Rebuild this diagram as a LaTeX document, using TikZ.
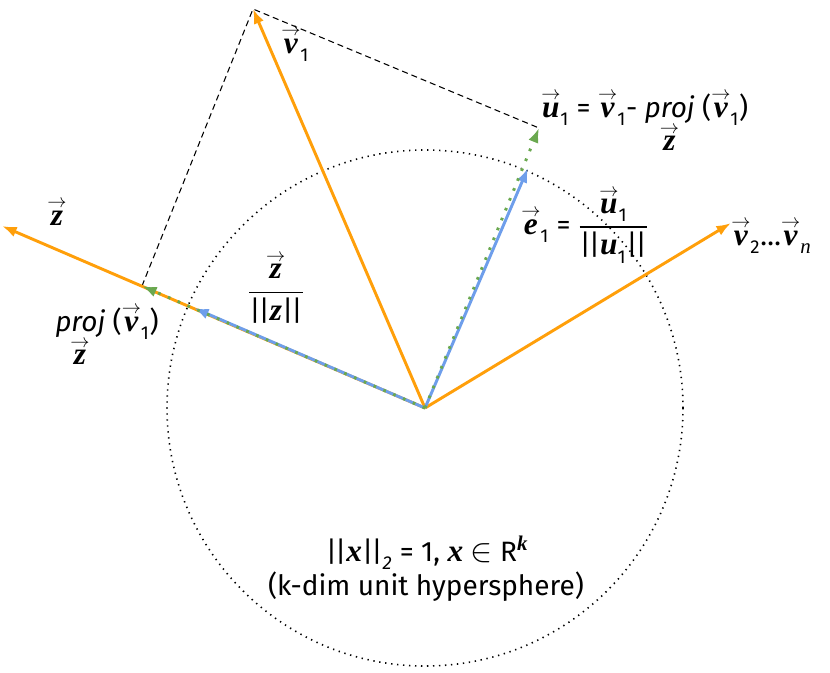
\documentclass[tikz,border=0pt]{standalone}
\usepackage{fontspec}
\setmainfont{Fira Sans}
\newfontfamily\serifbi{Liberation Serif}[Scale=1.12]
\usetikzlibrary{arrows.meta}
\definecolor{vorange}{RGB}{255,159,10}
\definecolor{vblue}{RGB}{110,158,235}
\definecolor{vgreen}{RGB}{106,168,79}
\newcommand\bi[1]{{\serifbi\bfseries\itshape #1}}
\newcommand\subsz{\fontsize{14}{14}\selectfont}
\newcommand\lowsub[1]{_{\lower3.5pt\hbox{\subsz #1}}}
\newcommand\nbar{|\kern-1.5pt|}
\newcommand\vecv[2]{\ensuremath{{\mathop{\hbox{\bi{#1}}}\limits^{\rightarrow}}\lowsub{#2}}}
\newcommand\projz{\ensuremath{\mathop{\hbox{\itshape proj}}\limits_{\hbox{\vecv{z}{}}}}}
\tikzset{
  lbl/.style={font=\fontsize{21}{25}\selectfont,inner sep=0pt},
  vec/.style={->,line width=2.2pt},
  ovec/.style={vec,vorange},
  bvec/.style={vec,vblue},
  gvec/.style={vec,vgreen,dash pattern=on 2pt off 6pt},
  guide/.style={black,line width=0.8pt,dash pattern=on 4.5pt off 3pt},
}

\begin{document}
\begin{tikzpicture}[x=0.75pt,y=-0.75pt,>={Latex[length=11pt,width=8pt]}]
\useasboundingbox (0,0) rectangle (830,672);
\coordinate (O) at (425,408);
\coordinate (V1) at (253,9);
\coordinate (Z) at (2,226);
\coordinate (Vn) at (731,223);
\coordinate (P) at (142,286);
\coordinate (Zhat) at (194,308);
\coordinate (U1) at (539,128);
\coordinate (E1) at (528,168);
\draw[black,line width=1.2pt,dash pattern=on 1pt off 3.5pt] (O) circle[radius=258];
\draw[guide] (P) -- (V1) -- (U1);
\draw[ovec] (O) -- (V1);
\draw[ovec] (O) -- (Z);
\draw[ovec] (O) -- (Vn);
\draw[bvec] (O) -- (Zhat);
\draw[bvec] (O) -- (E1);
\draw[gvec] (O) -- (P);
\draw[gvec] (O) -- (U1);
\node[lbl,anchor=base west] (zlab) at (47,225) {\vecv{z}{}};
\node[lbl] (zhatlab) at (276,288) {$\displaystyle{\hbox{\vecv{z}{}}\above 1.1pt\hbox{\nbar\bi{z}\nbar}}$};
\node[lbl,anchor=base west] (projlab) at (55,331) {\projz\ (\vecv{v}{1})};
\node[lbl,anchor=base west] (v1lab) at (281,53) {\vecv{v}{1}};
\node[lbl,anchor=base west] (u1lab) at (541,117) {\vecv{u}{1} = \vecv{v}{1}- \projz\ (\vecv{v}{1})};
\node[lbl,anchor=base west] (e1lab) at (521,234) {\vecv{e}{1} = $\displaystyle{\hbox{\vecv{u}{1}}\above 1.1pt\hbox{\nbar\bi{u}$\lowsub{1}$\nbar}}$};
\node[lbl,anchor=base west] (vnlab) at (731,245) {\vecv{v}{2}\dots\vecv{v}{\serifbi\itshape n}};
\node[lbl,anchor=base] (normlab) at (427,561) {\nbar\bi{x}\nbar$\lowsub{\itshape 2}$ = 1, \bi{x} {\fontsize{26}{26}\selectfont$\in$} R$^{\hbox{\subsz\bi{k}}}$};
\node[lbl,anchor=base] (spherelab) at (426,595) {(k-dim unit hypersphere)};
\end{tikzpicture}
\end{document}
